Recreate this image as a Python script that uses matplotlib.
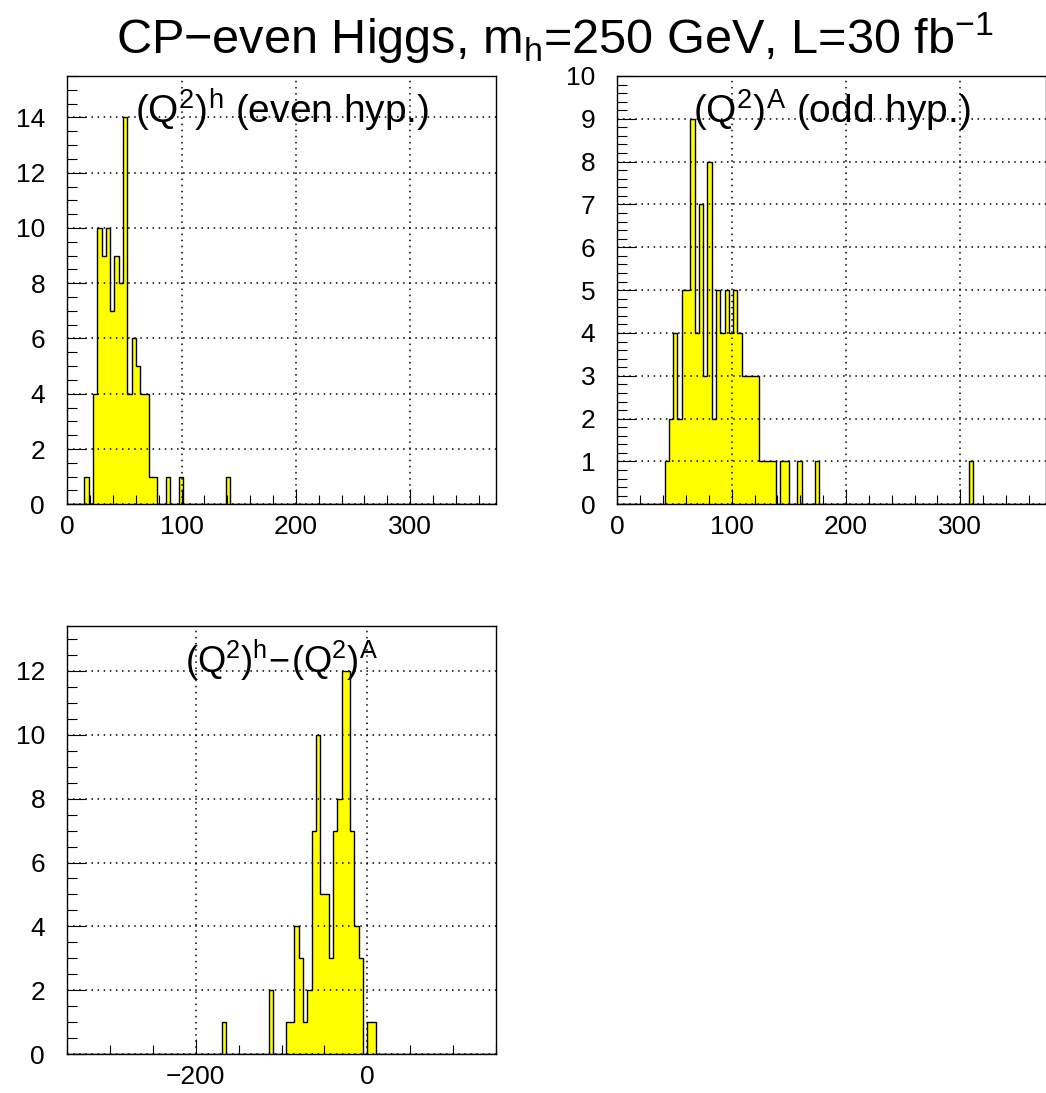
import numpy as np
import matplotlib
matplotlib.use('Agg')
import matplotlib.pyplot as plt
from matplotlib.ticker import MultipleLocator

plt.rcParams['font.family'] = ['Liberation Sans', 'DejaVu Sans']
plt.rcParams['mathtext.fontset'] = 'custom'
plt.rcParams['mathtext.rm'] = 'Liberation Sans'
plt.rcParams['mathtext.it'] = 'Liberation Sans'
plt.rcParams['mathtext.bf'] = 'Liberation Sans:bold'

# (Q^2)^h, even hypothesis: 100 bins of 3.75 over 0..375, non-empty bins listed by lower edge
even_edges_lo = [15, 22.5, 26.25, 30, 33.75, 37.5, 41.25, 45, 48.75, 52.5, 56.25, 60,
                 63.75, 67.5, 71.25, 75, 86.25, 97.5, 138.75]
even_counts = [1, 4, 10, 9, 10, 7, 9, 8, 14, 4, 6, 5, 4, 4, 1, 1, 1, 1, 1]

# (Q^2)^A, odd hypothesis
odd_edges_lo = [41.25, 45, 48.75, 52.5, 56.25, 60, 63.75, 67.5, 71.25, 75, 78.75, 82.5,
                86.25, 90, 93.75, 97.5, 101.25, 105, 108.75, 112.5, 116.25, 120,
                123.75, 127.5, 131.25, 135, 142.5, 146.25, 157.5, 172.5, 307.5]
odd_counts = [1, 2, 4, 2, 5, 5, 9, 4, 7, 3, 8, 2, 5, 4, 5, 4, 5, 4, 3, 3, 3, 3,
              1, 1, 1, 1, 1, 1, 1, 1, 1]

# difference (Q^2)^h - (Q^2)^A: 100 bins of 5 over -350..150
diff_edges_lo = [-170, -115, -95, -90, -85, -80, -75, -70, -65, -60, -55, -50, -45,
                 -40, -35, -30, -25, -20, -15, -10, 0, 5]
diff_counts = [1, 2, 1, 1, 4, 3, 1, 2, 7, 10, 5, 5, 3, 7, 8, 12, 12, 7, 4, 3, 1, 1]

title = 'CP\u2212even Higgs, m$_\\mathregular{h}$=250 GeV, L=30 fb$^\\mathregular{-1}$'


def fill_bins(lo, cnt, xmin, xmax, nbins):
    edges = np.linspace(xmin, xmax, nbins + 1)
    w = (xmax - xmin) / nbins
    vals = np.zeros(nbins)
    for x, c in zip(lo, cnt):
        vals[int(round((x - xmin) / w))] = c
    return edges, vals


def draw_panel(ax, lo, cnt, xlim, nbins, ylim, xmaj, xmin_, ymaj, ymin_, label, lsize):
    edges, vals = fill_bins(lo, cnt, xlim[0], xlim[1], nbins)
    ax.stairs(vals, edges, fill=True, facecolor='#ffff00', edgecolor='none', zorder=1)
    ax.stairs(vals, edges, color='black', linewidth=1.0, zorder=1.2)
    ax.set_xlim(*xlim)
    ax.set_ylim(*ylim)
    ax.xaxis.set_major_locator(MultipleLocator(xmaj))
    ax.xaxis.set_minor_locator(MultipleLocator(xmin_))
    ax.yaxis.set_major_locator(MultipleLocator(ymaj))
    ax.yaxis.set_minor_locator(MultipleLocator(ymin_))
    ax.set_axisbelow(False)
    ax.grid(True, which='major', color='black', linestyle=(0, (1, 3)), linewidth=1.1)
    ax.tick_params(axis='both', which='both', direction='in', top=False, right=False,
                   labelsize=19, width=0.8)
    ax.tick_params(axis='y', which='major', length=14, pad=16)
    ax.tick_params(axis='y', which='minor', length=7)
    ax.tick_params(axis='x', which='major', length=11, pad=8)
    ax.tick_params(axis='x', which='minor', length=6.5)
    for s in ax.spines.values():
        s.set_linewidth(1.0)
    ax.text(0.5, 0.92, label, transform=ax.transAxes, ha='center', va='center',
            fontsize=lsize, zorder=5)


fig = plt.figure(figsize=(10.46, 10.93), dpi=100)
fig.patch.set_facecolor('white')

ax1 = fig.add_axes([0.0643, 0.5386, 0.4098, 0.3919])
draw_panel(ax1, even_edges_lo, even_counts, (0, 375), 100, (0, 15.5), 100, 20, 2, 0.5,
           r'$\mathregular{(Q^2)^h}$ (even hyp.)', 28)

ax2 = fig.add_axes([0.5902, 0.5386, 0.4098, 0.3919])
draw_panel(ax2, odd_edges_lo, odd_counts, (0, 375), 100, (0, 10), 100, 20, 1, 0.2,
           r'$\mathregular{(Q^2)^A}$ (odd hyp.)', 28)

ax3 = fig.add_axes([0.0643, 0.0354, 0.4098, 0.3919])
draw_panel(ax3, diff_edges_lo, diff_counts, (-350, 150), 100, (0, 13.4), 200, 50, 2, 0.5,
           r'$\mathregular{(Q^2)^h\!-\!(Q^2)^A}$', 26)

fig.text(0.531, 0.965, title, ha='center', va='center', fontsize=35)

fig.savefig('out.png', dpi=100)
